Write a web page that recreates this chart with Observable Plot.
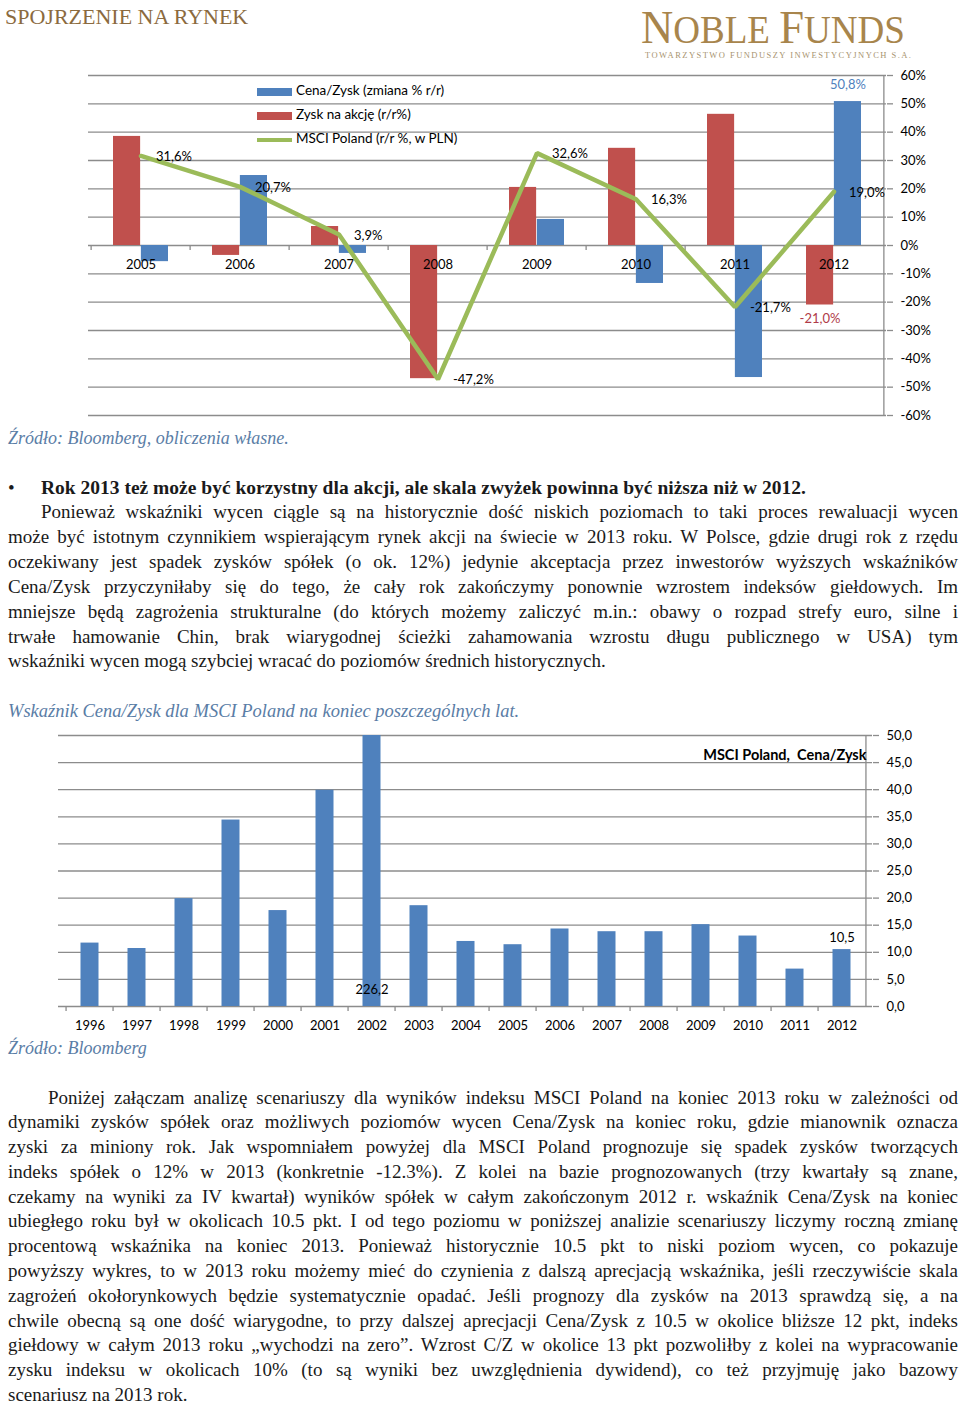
<!DOCTYPE html>
<html><head><meta charset="utf-8">
<script src="https://cdn.jsdelivr.net/npm/d3@7"></script>
<script src="https://cdn.jsdelivr.net/npm/@observablehq/plot@0.6"></script>
<style>
body{margin:0;background:#fff;}
#page{position:relative;width:960px;height:1405px;overflow:hidden;background:#fff;}
.abs{position:absolute;white-space:nowrap;}
.serif{font-family:"Liberation Serif","Times New Roman",serif;color:#1a1a1a;}
.src{font-family:"Liberation Serif",serif;font-style:italic;color:#5a7da6;font-size:18px;}
.jl{position:absolute;left:8px;width:950px;text-align:justify;text-align-last:justify;font-family:"Liberation Serif",serif;font-size:19px;line-height:24px;color:#1a1a1a;white-space:normal;}
.last{text-align:left;text-align-last:left;}
.leg{position:absolute;font-family:Lato,sans-serif;font-size:13.5px;color:#000;line-height:16px;}
</style>
</head><body><div id="page">
<div class="abs serif" style="left:5px;top:4px;font-size:22px;color:#8b6a3e;line-height:26px;">SPOJRZENIE NA RYNEK</div>
<div class="abs" style="left:641px;top:0px;font-family:'Liberation Serif',serif;color:#a8854c;line-height:normal;transform-origin:left top;transform:scaleX(0.95);"><span style="font-size:47px">N</span><span style="font-size:39px">OBLE </span><span style="font-size:47px">F</span><span style="font-size:39px">UNDS</span></div>
<div class="abs" style="left:645px;top:49px;font-family:'Liberation Serif',serif;font-size:8.5px;letter-spacing:1.45px;color:#a89470;line-height:12px;">TOWARZYSTWO FUNDUSZY INWESTYCYJNYCH S.A.</div>
<div id="chart1" class="abs" style="left:0;top:60px;"></div>
<div class="leg" style="left:257px;top:82px;"><span style="display:inline-block;width:35px;height:8px;background:#4f81bd;vertical-align:middle;margin-right:4px;"></span>Cena/Zysk (zmiana % r/r)</div>
<div class="leg" style="left:257px;top:106px;"><span style="display:inline-block;width:35px;height:8px;background:#c0504d;vertical-align:middle;margin-right:4px;"></span>Zysk na akcję (r/r%)</div>
<div class="leg" style="left:257px;top:130px;"><span style="display:inline-block;width:35px;height:4px;background:#9bbb59;vertical-align:middle;margin-right:4px;"></span>MSCI Poland (r/r %, w PLN)</div>
<div class="abs src" style="left:8px;top:425px;line-height:26px;">Źródło: Bloomberg, obliczenia własne.</div>

<div class="abs serif" style="left:8px;top:476px;font-size:19px;line-height:24px;">•</div>
<div class="abs serif" style="left:41px;top:476px;font-size:19.5px;line-height:24px;font-weight:bold;">Rok 2013 też może być korzystny dla akcji, ale skala zwyżek powinna być niższa niż w 2012.</div>
<div class="jl" style="top:500px;left:41px;width:917px;">Ponieważ wskaźniki wycen ciągle są na historycznie dość niskich poziomach to taki proces rewaluacji wycen</div>
<div class="jl" style="top:525px;">może być istotnym czynnikiem wspierającym rynek akcji na świecie w 2013 roku. W Polsce, gdzie drugi rok z rzędu</div>
<div class="jl" style="top:550px;">oczekiwany jest spadek zysków spółek (o ok. 12%) jedynie akceptacja przez inwestorów wyższych wskaźników</div>
<div class="jl" style="top:575px;">Cena/Zysk przyczyniłaby się do tego, że cały rok zakończymy ponownie wzrostem indeksów giełdowych. Im</div>
<div class="jl" style="top:600px;">mniejsze będą zagrożenia strukturalne (do których możemy zaliczyć m.in.: obawy o rozpad strefy euro, silne i</div>
<div class="jl" style="top:625px;">trwałe hamowanie Chin, brak wiarygodnej ścieżki zahamowania wzrostu długu publicznego w USA) tym</div>
<div class="jl last" style="top:649px;">wskaźniki wycen mogą szybciej wracać do poziomów średnich historycznych.</div>

<div class="abs src" style="left:8px;top:698px;line-height:26px;font-size:18.5px;">Wskaźnik Cena/Zysk dla MSCI Poland na koniec poszczególnych lat.</div>
<div id="chart2" class="abs" style="left:0;top:725px;"></div>
<div class="abs src" style="left:8px;top:1035px;line-height:26px;">Źródło: Bloomberg</div>

<div class="jl" style="top:1086px;left:48px;width:910px;">Poniżej załączam analizę scenariuszy dla wyników indeksu MSCI Poland na koniec 2013 roku w zależności od</div>
<div class="jl" style="top:1110px;">dynamiki zysków spółek oraz możliwych poziomów wycen Cena/Zysk na koniec roku, gdzie mianownik oznacza</div>
<div class="jl" style="top:1135px;">zyski za miniony rok. Jak wspomniałem powyżej dla MSCI Poland prognozuje się spadek zysków tworzących</div>
<div class="jl" style="top:1160px;">indeks spółek o 12% w 2013 (konkretnie -12.3%). Z kolei na bazie prognozowanych (trzy kwartały są znane,</div>
<div class="jl" style="top:1185px;">czekamy na wyniki za IV kwartał) wyników spółek w całym zakończonym 2012 r. wskaźnik Cena/Zysk na koniec</div>
<div class="jl" style="top:1209px;">ubiegłego roku był w okolicach 10.5 pkt. I od tego poziomu w poniższej analizie scenariuszy liczymy roczną zmianę</div>
<div class="jl" style="top:1234px;">procentową wskaźnika na koniec 2013. Ponieważ historycznie 10.5 pkt to niski poziom wycen, co pokazuje</div>
<div class="jl" style="top:1259px;">powyższy wykres, to w 2013 roku możemy mieć do czynienia z dalszą aprecjacją wskaźnika, jeśli rzeczywiście skala</div>
<div class="jl" style="top:1284px;">zagrożeń okołorynkowych będzie systematycznie opadać. Jeśli prognozy dla zysków na 2013 sprawdzą się, a na</div>
<div class="jl" style="top:1309px;">chwile obecną są one dość wiarygodne, to przy dalszej aprecjacji Cena/Zysk z 10.5 w okolice bliższe 12 pkt, indeks</div>
<div class="jl" style="top:1333px;">giełdowy w całym 2013 roku „wychodzi na zero”. Wzrost C/Z w okolice 13 pkt pozwoliłby z kolei na wypracowanie</div>
<div class="jl" style="top:1358px;">zysku indeksu w okolicach 10% (to są wyniki bez uwzględnienia dywidend), co też przyjmuję jako bazowy</div>
<div class="jl last" style="top:1383px;">scenariusz na 2013 rok.</div>
</div>
<script>
// ---- Chart 1 data ----
const years = ["2005","2006","2007","2008","2009","2010","2011","2012"];
const cenaZyskChange = [-5.7, 24.7, -2.8, null, 9.2, -13.4, -46.6, 50.8];
const zyskNaAkcje = [38.5, -3.5, 6.7, -47.0, 20.5, 34.3, 46.3, -21.0];
const msciPoland = [31.6, 20.7, 3.9, -47.2, 32.6, 16.3, -21.7, 19.0];
const topTicks = [-60,-50,-40,-30,-20,-10,0,10,20,30,40,50,60];

// ---- Chart 2 data ----
const peYears = ["1996","1997","1998","1999","2000","2001","2002","2003","2004","2005","2006","2007","2008","2009","2010","2011","2012"];
const peValues = [11.7, 10.7, 19.9, 34.4, 17.7, 39.9, 226.2, 18.6, 12.0, 11.4, 14.3, 13.8, 13.8, 15.1, 13.0, 6.9, 10.5];
const bottomTicks = [0,5,10,15,20,25,30,35,40,45,50];

const fmtPct = v => v.toFixed(1).replace(".", ",") + "%";
const fmtNum = v => v.toFixed(1).replace(".", ",");
const grid = "#8c8c8c";

const t1 = years.map((y,i) => ({year:y, cz:cenaZyskChange[i], eps:zyskNaAkcje[i], msci:msciPoland[i]}));
const W1 = 960, ML1 = 88, MR1 = 74;
const bw1 = (W1 - ML1 - MR1) / years.length;

const c1 = Plot.plot({
  width: W1, height: 370, marginLeft: ML1, marginRight: MR1, marginTop: 15, marginBottom: 15,
  x: {domain: years, padding: 0, axis: null},
  y: {domain: [-60, 60], axis: null},
  style: {fontFamily: "Lato, sans-serif", fontSize: "13px", color: "#000", background: "transparent"},
  marks: [
    Plot.gridY(topTicks, {stroke: grid, strokeOpacity: 1, strokeWidth: 1.3}),
    Plot.axisY(topTicks, {anchor: "right", label: null, tickSize: 6, tickPadding: 8, stroke: grid, strokeWidth: 1.3, tickFormat: d => d + "%", fontSize: 13}),
    Plot.ruleX([years[years.length-1]], {dx: bw1/2, y1: -60, y2: 60, stroke: grid, strokeWidth: 1.3}),
    Plot.barY(t1, {x: "year", y: "eps", fill: "#c0504d", insetLeft: 22, insetRight: bw1/2}),
    Plot.barY(t1.filter(d => d.cz != null), {x: "year", y: "cz", fill: "#4f81bd", insetLeft: bw1/2, insetRight: 22}),
    Plot.ruleX(years, {x: d => d, y1: 0, y2: 0, dx: -bw1/2, insetBottom: -5, stroke: grid, strokeWidth: 1.3}),
    Plot.text(years, {x: d => d, y: 0, dy: 19, text: d => d, fill: "#000"}),
    Plot.line(t1, {x: "year", y: "msci", stroke: "#9bbb59", strokeWidth: 4.5, strokeLinejoin: "miter"}),
    Plot.text(t1, {x: "year", y: "msci", text: d => fmtPct(d.msci), textAnchor: "start", dx: 15, dy: 1, fill: "#000"}),
    Plot.text(t1.filter(d => d.year === "2012"), {x: "year", y: "cz", text: d => fmtPct(d.cz), dx: 14, dy: -17, fill: "#4f81bd"}),
    Plot.text(t1.filter(d => d.year === "2012"), {x: "year", y: "eps", text: d => fmtPct(d.eps), dx: -14, dy: 14, fill: "#b03a48"})
  ]
});
document.getElementById("chart1").appendChild(c1);

const t2 = peYears.map((y,i) => ({year:y, v:peValues[i]}));
const W2 = 960, ML2 = 58, MR2 = 88;
const bw2 = (W2 - ML2 - MR2) / peYears.length;
const c2 = Plot.plot({
  width: W2, height: 311, marginLeft: ML2, marginRight: MR2, marginTop: 10, marginBottom: 30,
  x: {domain: peYears, padding: 0, axis: null},
  y: {domain: [0, 50], clamp: true, axis: null},
  style: {fontFamily: "Lato, sans-serif", fontSize: "13px", color: "#000", background: "transparent"},
  marks: [
    Plot.gridY(bottomTicks, {stroke: grid, strokeOpacity: 1, strokeWidth: 1.3}),
    Plot.axisY(bottomTicks, {anchor: "right", label: null, tickSize: 6, tickPadding: 8, stroke: grid, strokeWidth: 1.3, tickFormat: fmtNum, fontSize: 13}),
    Plot.ruleX([peYears[peYears.length-1]], {dx: bw2/2, y1: 0, y2: 50, stroke: grid, strokeWidth: 1.3}),
    Plot.barY(t2, {x: "year", y: "v", fill: "#4f81bd", insetLeft: 14.5, insetRight: 14.5}),
    Plot.ruleX(peYears, {x: d => d, y1: 0, y2: 0, dx: -bw2/2, insetBottom: -5, stroke: grid, strokeWidth: 1.3}),
    Plot.text(peYears, {x: d => d, y: 0, dy: 19, text: d => d, fill: "#000"}),
    Plot.text(t2.filter(d => d.year === "2002"), {x: "year", y: 0, dy: -17, text: d => fmtNum(d.v), fill: "#000"}),
    Plot.text(t2.filter(d => d.year === "2012"), {x: "year", y: "v", dy: -12, text: d => fmtNum(d.v), fill: "#000"}),
    Plot.text(["MSCI Poland,  Cena/Zysk"], {frameAnchor: "top-right", dx: -6, dy: 14, text: d => d, fontWeight: "bold", fontSize: 14.5, fill: "#000"})
  ]
});
document.getElementById("chart2").appendChild(c2);
</script>
</body></html>
